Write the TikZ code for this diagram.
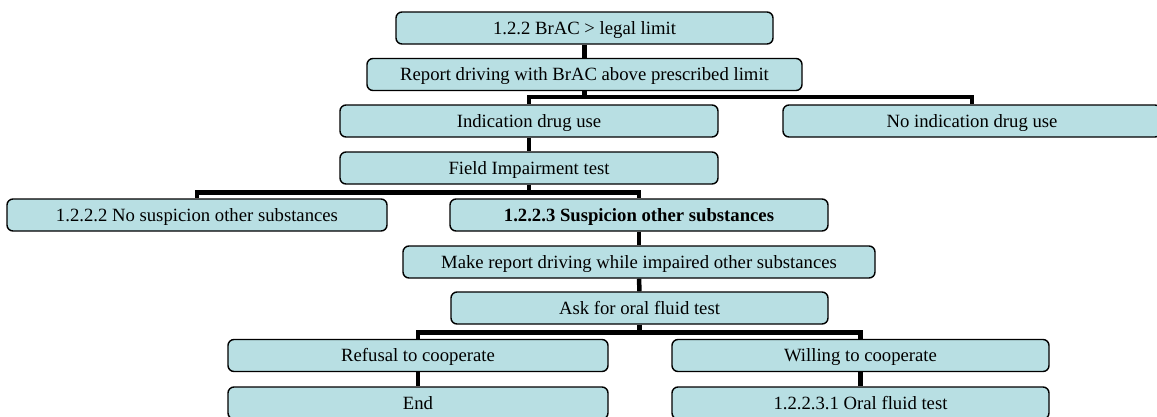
\documentclass[tikz,border=0pt]{standalone}
\usepackage{fontspec}
\setmainfont{Liberation Serif}
\definecolor{boxfill}{RGB}{184,223,227}
\tikzset{
  stage/.style={draw=black, line width=1.4pt, rounded corners=6pt, fill=boxfill,
    minimum height=32pt, inner sep=0pt, text height=12.3pt, text depth=0pt,
    font=\fontsize{18.7}{22}\selectfont},
  link/.style={line width=4.5pt}
}
\begin{document}
\begin{tikzpicture}[x=1pt,y=-1pt]
\useasboundingbox (0,0) rectangle (1157,416);

% Breath test part
\node[stage, minimum width=377pt] (brac) at (584.5,28) {1.2.2 BrAC > legal limit};
\node[stage, minimum width=435pt] (report) at (584.5,74.5) {Report driving with BrAC above prescribed limit};
\node[stage, minimum width=378pt] (drug) at (529,121) {Indication drug use};
\node[stage, minimum width=378pt] (nodrug) at (972,121) {No indication drug use};
\node[stage, minimum width=378pt] (field) at (529,168) {Field Impairment test};

% Suspicion part
\node[stage, minimum width=380pt] (nosusp) at (197,215) {1.2.2.2 No suspicion other substances};
\node[stage, minimum width=378pt, font=\fontsize{18.7}{22}\selectfont\bfseries] (susp) at (639,215) {1.2.2.3 Suspicion other substances};
\node[stage, minimum width=472pt] (impaired) at (639,262) {Make report driving while impaired other substances};
\node[stage, minimum width=377pt] (oral) at (639.5,308) {Ask for oral fluid test};

% Oral fluid part
\node[stage, minimum width=380pt] (refusal) at (418,355.5) {Refusal to cooperate};
\node[stage, minimum width=377pt] (willing) at (860.5,355.5) {Willing to cooperate};
\node[stage, minimum width=380pt] (stop) at (418,403) {End};
\node[stage, minimum width=377pt] (fluid) at (860.5,403) {1.2.2.3.1 Oral fluid test};

% Connectors
\draw[link] (brac.south) -- (report.north);
\draw[link] (report.south) -- ++(0,6) -| (drug.north);
\draw[link] (report.south) -- ++(0,6) -| (nodrug.north);
\draw[link] (drug.south) -- (field.north);
\draw[link] (field.south) -- ++(0,8) -| (nosusp.north);
\draw[link] (field.south) -- ++(0,8) -| (susp.north);
\draw[link] (susp.south) -- (impaired.north);
\draw[link] (impaired.south) -- (oral.north);
\draw[link] (oral.south) -- ++(0,8) -| (refusal.north);
\draw[link] (oral.south) -- ++(0,8) -| (willing.north);
\draw[link] (refusal.south) -- (stop.north);
\draw[link] (willing.south) -- (fluid.north);
\end{tikzpicture}
\end{document}
